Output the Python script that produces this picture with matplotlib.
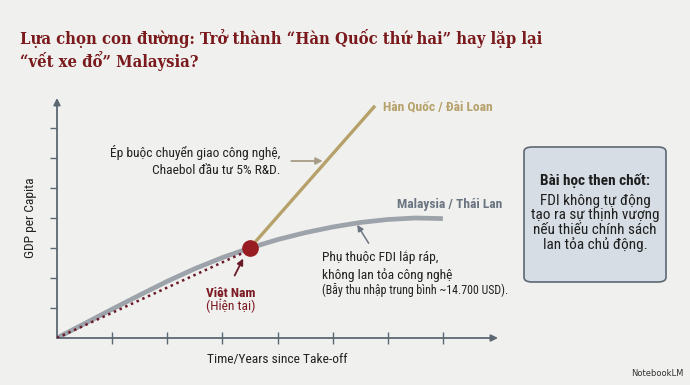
import numpy as np
import matplotlib
matplotlib.use('Agg')
import matplotlib.pyplot as plt
from matplotlib import font_manager as fm
from matplotlib.patches import FancyBboxPatch

# data (arbitrary units, axis runs 0..8)
malaysia_x = [0, 0.5, 1, 1.5, 2, 2.5, 3, 3.5, 4, 4.5, 5, 5.5, 6, 6.5, 7]
malaysia_y = [0, 0.48, 0.96, 1.43, 1.89, 2.31, 2.68, 3.0, 3.28, 3.51, 3.7, 3.85, 3.95, 4.0, 3.98]
korea_x = [3.5, 5.75]
korea_y = [3.0, 7.7]
vietnam_x = [0, 3.45]
vietnam_y = [0, 2.9]
vietnam_now = (3.5, 3.0)
ticks = [1, 2, 3, 4, 5, 6, 7]

title = 'Lựa chọn con đường: Trở thành “Hàn Quốc thứ hai” hay lặp lại\n“vết xe đổ” Malaysia?'

bg = '#f0f0ee'
axis_col = '#5b6773'
gold = '#b6a16b'
grey = '#9da3aa'
maroon = '#981d22'

names = {f.name for f in fm.fontManager.ttflist}
condensed = 'Roboto Condensed' in names
body = 'Roboto Condensed' if condensed else 'Roboto'
fs = 9.7 if condensed else 9.0
box_fs = 11 if condensed else 10
plt.rcParams['font.family'] = [body, 'DejaVu Sans']

# condensed bold serif for the title, if the file is there
title_font = None
for path in fm.findSystemFonts():
    if path.endswith('DejaVuSerifCondensed-Bold.ttf'):
        title_font = fm.FontProperties(fname=path, size=13)
if title_font is None:
    title_font = fm.FontProperties(family='DejaVu Serif', weight='bold', size=13)

fig = plt.figure(figsize=(6.9, 3.85), dpi=100, facecolor=bg)
W, H = 690, 385
# axes placed so data 0..8 sits on the pixel positions of the reference
ax = fig.add_axes([57 / W, 1 - 338 / H, (498 - 57) / W, (338 - 98) / H])
ax.set_facecolor(bg)
ax.set_xlim(0, 8)
ax.set_ylim(0, 8)
for s in ax.spines.values():
    s.set_visible(False)

# axes with arrow heads
ax.annotate('', xy=(8, 0), xytext=(0, 0), annotation_clip=False,
            arrowprops=dict(arrowstyle='-|>', color=axis_col, lw=1.3, mutation_scale=10, shrinkA=0, shrinkB=0))
ax.annotate('', xy=(0, 8), xytext=(0, 0), annotation_clip=False,
            arrowprops=dict(arrowstyle='-|>', color=axis_col, lw=1.3, mutation_scale=10, shrinkA=0, shrinkB=0))
ax.set_xticks(ticks)
ax.set_yticks(ticks)
ax.set_xticklabels([])
ax.set_yticklabels([])
ax.tick_params(axis='x', direction='inout', length=8, width=1, color=axis_col)
ax.tick_params(axis='y', direction='out', length=5, width=1, color=axis_col)

ax.set_xlabel('Time/Years since Take-off', fontsize=fs, color='#222222', labelpad=3)
ax.set_ylabel('GDP per Capita', fontsize=fs, color='#222222', labelpad=6)

# lines
ax.plot(malaysia_x, malaysia_y, color=grey, lw=3.4, solid_capstyle='butt', solid_joinstyle='round', zorder=2)
ax.plot(korea_x, korea_y, color=gold, lw=2.4, zorder=3)
ax.plot(vietnam_x, vietnam_y, color='#6a1a28', lw=1.8, ls=(0, (1, 1.5)), zorder=3)
ax.plot(*vietnam_now, 'o', color=maroon, ms=11, zorder=5)

# labels
ax.text(5.92, 7.7, 'Hàn Quốc / Đài Loan', color=gold, fontsize=fs, fontweight='bold', va='center')
ax.text(6.17, 4.45, 'Malaysia / Thái Lan', color='#6c7682', fontsize=fs, fontweight='bold', va='center')

ax.text(4.05, 5.9, 'Ép buộc chuyển giao công nghệ,\nChaebol đầu tư 5% R&D.', ha='right', va='center',
        fontsize=fs, color='#222222', linespacing=1.3)
ax.annotate('', xy=(4.87, 5.9), xytext=(4.2, 5.9),
            arrowprops=dict(arrowstyle='-|>', color='#a79c84', lw=1.3, mutation_scale=10))

ax.text(4.8, 2.39, 'Phụ thuộc FDI lắp ráp,\nkhông lan tỏa công nghệ', ha='left', va='center',
        fontsize=fs, color='#222222', linespacing=1.3)
ax.text(4.8, 1.6, '(Bẫy thu nhập trung bình ~14.700 USD).', ha='left', va='center',
        fontsize=fs - 1.1, color='#222222')
ax.annotate('', xy=(5.42, 3.85), xytext=(5.68, 3.08),
            arrowprops=dict(arrowstyle='-|>', color='#6b7580', lw=1.1, mutation_scale=9))

ax.text(3.15, 1.5, 'Việt Nam', ha='center', va='center', fontsize=fs, fontweight='bold', color='#7c1a24')
ax.text(3.15, 1.04, '(Hiện tại)', ha='center', va='center', fontsize=fs, color='#7c1a24')
ax.annotate('', xy=(3.4, 2.73), xytext=(3.2, 2.0),
            arrowprops=dict(arrowstyle='-|>', color='#6a1a28', lw=1.3, mutation_scale=9))

# takeaway box
box = FancyBboxPatch((524 / W, 1 - 282 / H), (666 - 524) / W, (282 - 147) / H,
                     boxstyle='round,pad=0,rounding_size=0.012', transform=fig.transFigure,
                     facecolor='#d6dde4', edgecolor='#5f6873', lw=1.2)
fig.patches.append(box)
fig.text(595 / W, 1 - 181 / H, 'Bài học then chốt:', ha='center', va='center',
         fontsize=box_fs, fontweight='bold', color='#1e1e1e')
fig.text(595 / W, 1 - 223 / H, 'FDI không tự động\ntạo ra sự thịnh vượng\nnếu thiếu chính sách\nlan tỏa chủ động.',
         ha='center', va='center', fontsize=box_fs, color='#1e1e1e', linespacing=1.05)

# title, sized so the first line ends a little past where the reference's does
t = fig.text(20 / W, 1 - 50 / H, title, ha='left', va='center', fontproperties=title_font,
             color='#7a1a1c', linespacing=1.15)
fig.canvas.draw()
width = t.get_window_extent().width
t.set_fontsize(title_font.get_size() * 520 / width)

fig.text(684 / W, 1 - 378 / H, 'NotebookLM', ha='right', va='bottom', fontsize=6, color='#333333',
         family=['DejaVu Sans'])

fig.savefig('out.png', dpi=100, facecolor=bg)
